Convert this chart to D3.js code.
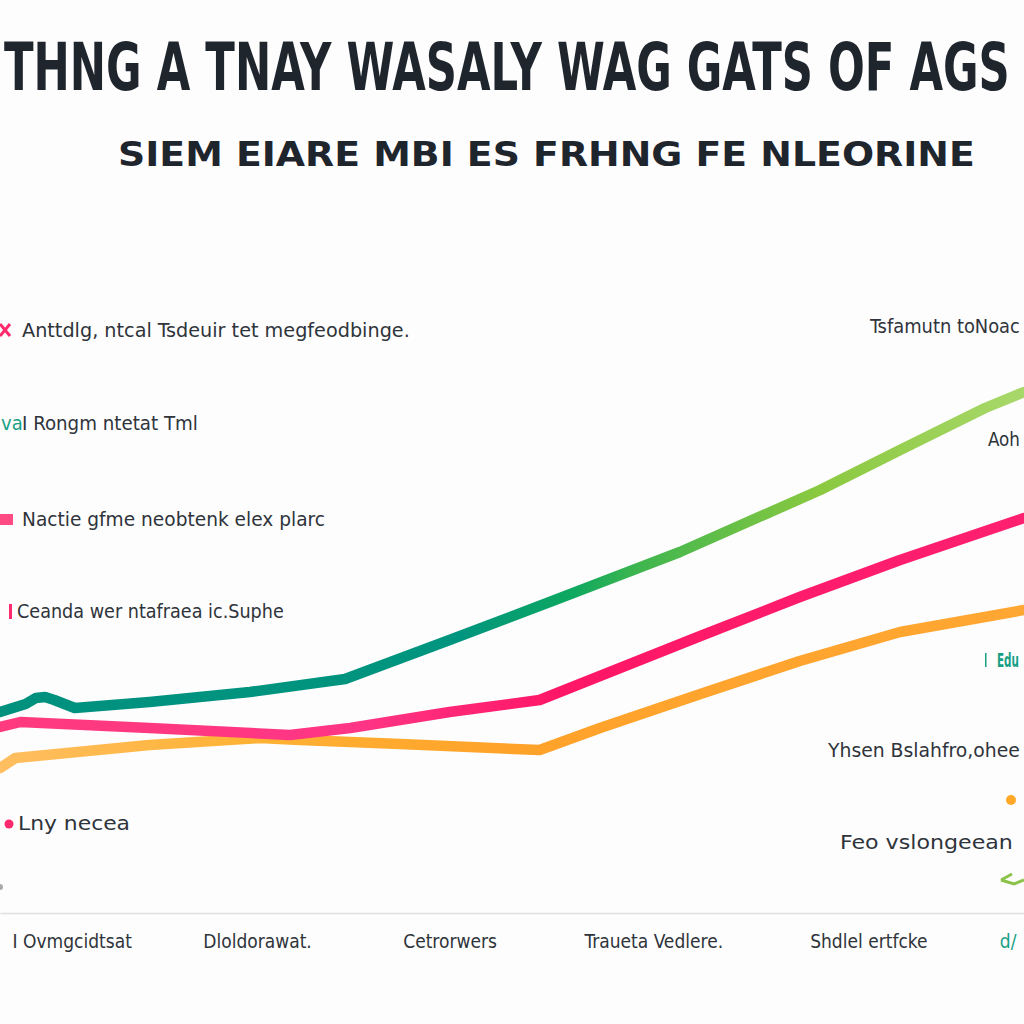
<!DOCTYPE html>
<html>
<head>
<meta charset="utf-8">
<script src="https://cdn.jsdelivr.net/npm/d3@7"></script>
<style>
  html, body { margin: 0; padding: 0; background: #fdfdfd; }
  svg { display: block; }
</style>
</head>
<body>
<svg id="chart" width="1024" height="1024"></svg>
<script>
// ---- data ----
const titleText = "THNG A TNAY WASALY WAG GATS OF AGS";
const subtitleText = "SIEM EIARE MBI ES FRHNG FE NLEORINE";

const tealX = [0, 2.5, 3.5, 4.4, 5.3, 7.3, 14.6, 24.4, 33.7, 43.9, 54.7, 66.4, 80.1, 87.9, 96.2, 100];
const tealY = [20.1, 20.9, 21.5, 21.6, 21.3, 20.5, 21.1, 22.1, 23.4, 27.3, 31.5, 36.1, 42.3, 46.3, 50.5, 52.1];

const pinkX = [0, 2, 14.6, 28.3, 34.2, 43.9, 52.7, 68.4, 78.1, 87.9, 100];
const pinkY = [18.6, 19.1, 18.5, 17.8, 18.5, 20.1, 21.3, 27.7, 31.6, 35.3, 39.5];

const orangeX = [0, 1.5, 14.6, 25.4, 29.3, 39.1, 52.7, 58.6, 68.4, 78.1, 87.9, 100];
const orangeY = [14.5, 15.5, 16.8, 17.5, 17.3, 16.9, 16.3, 18.5, 21.9, 25.2, 28.1, 30.3];

const tickPos = [7, 25.1, 43.9, 63.8, 84.8, 98.4];
const tickLabels = ["I Ovmgcidtsat", "Dloldorawat.", "Cetrorwers", "Traueta Vedlere.", "Shdlel ertfcke", "d/"];

const leftNotes = ["Anttdlg, ntcal Tsdeuir tet megfeodbinge.", "I Rongm ntetat Tml", "Nactie gfme neobtenk elex plarc", "Ceanda wer ntafraea ic.Suphe", "Lny necea"];
const rightNotes = ["Tsfamutn toNoac", "Aoh", "Edu", "Yhsen Bslahfro,ohee", "Feo vslongeean"];

// ---- setup ----
const svg = d3.select("#chart");
const W = 1024, H = 1024;
const x = d3.scaleLinear().domain([0, 100]).range([0, 1024]);
const y = d3.scaleLinear().domain([0, 60]).range([913, 313]);

const condensed = "'Liberation Sans Narrow', 'DejaVu Sans Condensed', 'Arial Narrow', sans-serif";
const textCol = "#2f343b";

// place a text so that its left edge is at px and it spans width w (horizontal scale)
function fitText(sel, px, py, w, sy) {
  const nat = sel.node().getComputedTextLength();
  const sx = w / nat;
  sel.attr("x", 0).attr("y", 0)
    .attr("transform", `translate(${px},${py}) scale(${sx},${sy || 1})`);
  return sel;
}

// title
fitText(svg.append("text")
  .attr("font-family", condensed).attr("font-weight", "bold")
  .attr("font-size", 60).attr("fill", "#1f252d")
  .text(titleText), 4, 90, 1006, 1.1);

fitText(svg.append("text")
  .attr("font-family", condensed).attr("font-weight", "bold")
  .attr("font-size", 33).attr("fill", "#1f252d")
  .text(subtitleText), 118, 166, 857);

// gradients
const defs = svg.append("defs");
function grad(id, stops) {
  const g = defs.append("linearGradient").attr("id", id)
    .attr("gradientUnits", "userSpaceOnUse")
    .attr("x1", 0).attr("y1", 0).attr("x2", W).attr("y2", 0);
  stops.forEach(s => g.append("stop").attr("offset", s[0]).attr("stop-color", s[1]));
}
grad("gTeal", [[0, "#00917e"], [0.45, "#00957f"], [0.56, "#0ea85f"], [0.62, "#3db54f"], [0.8, "#8bc940"], [1, "#a8d86a"]]);
grad("gPink", [[0, "#ff3a7e"], [0.35, "#ff3585"], [0.55, "#ff1666"], [1, "#ff2070"]]);
grad("gOrange", [[0, "#ffbe60"], [0.25, "#ffb233"], [0.5, "#ffa22a"], [1, "#ffa733"]]);

// axis
const axis = d3.axisBottom(x).tickValues(tickPos).tickSize(0)
  .tickFormat((d, i) => tickLabels[i]);
const ax = svg.append("g").attr("transform", "translate(0,913)").call(axis);
ax.select(".domain").attr("stroke", "#e0e0e0").attr("stroke-width", 1.5);
ax.selectAll("text")
  .attr("font-family", condensed).attr("font-size", 19)
  .attr("fill", (d, i) => i === 5 ? "#16a085" : textCol)
  .attr("dy", "1.7em");

// lines
const line = d3.line().x(d => x(d[0])).y(d => y(d[1])).curve(d3.curveLinear);
function drawLine(xs, ys, stroke) {
  svg.append("path")
    .datum(xs.map((v, i) => [v, ys[i]]))
    .attr("d", line)
    .attr("fill", "none")
    .attr("stroke", stroke)
    .attr("stroke-width", 10.5)
    .attr("stroke-linejoin", "round")
    .attr("stroke-linecap", "round");
}
drawLine(orangeX, orangeY, "url(#gOrange)");
drawLine(pinkX, pinkY, "url(#gPink)");
drawLine(tealX, tealY, "url(#gTeal)");

// left annotations
const leftY = [337, 430, 526, 618, 830];
const leftW = [388, 176, 303, 267, 112];
const leftX = [22, 22, 22, 17, 18];
leftNotes.forEach((t, i) => {
  fitText(svg.append("text")
    .attr("font-family", condensed).attr("font-size", 20).attr("fill", textCol)
    .text(t), leftX[i], leftY[i], leftW[i]);
});
// markers
svg.append("path").attr("d", "M0,324 L10,336 M10,324 L0,336").attr("stroke", "#ff2a6d").attr("stroke-width", 3);
svg.append("text").attr("x", 1).attr("y", 430).attr("font-family", condensed)
  .attr("font-size", 20).attr("fill", "#16a085").text("va");
svg.append("rect").attr("x", 0).attr("y", 514).attr("width", 13).attr("height", 11).attr("fill", "#ff2a6d").attr("opacity", 0.85);
svg.append("rect").attr("x", 9).attr("y", 604).attr("width", 3).attr("height", 15).attr("fill", "#ff2a6d");
svg.append("circle").attr("cx", 9).attr("cy", 824).attr("r", 4.5).attr("fill", "#ff2a6d");
svg.append("circle").attr("cx", 0).attr("cy", 887).attr("r", 3).attr("fill", "#aaa");

// right annotations
const rightX = [870, 988, 997, 828, 840];
const rightY = [333, 446, 667, 757, 849];
const rightW = [150, 32, 22, 192, 173];
rightNotes.forEach((t, i) => {
  fitText(svg.append("text")
    .attr("font-family", condensed).attr("font-size", 20)
    .attr("font-weight", i === 2 ? "bold" : "normal")
    .attr("fill", i === 2 ? "#16a085" : textCol)
    .text(t), rightX[i], rightY[i], rightW[i]);
});
svg.append("rect").attr("x", 985).attr("y", 653).attr("width", 1.5).attr("height", 14).attr("fill", "#16a085");
svg.append("circle").attr("cx", 1011).attr("cy", 800).attr("r", 5).attr("fill", "#ffa726");
svg.append("path").attr("d", "M1001,880 L1012,874 M1001,880 L1014,884 L1024,880")
  .attr("fill", "none").attr("stroke", "#8bc34a").attr("stroke-width", 3);
</script>
</body>
</html>
